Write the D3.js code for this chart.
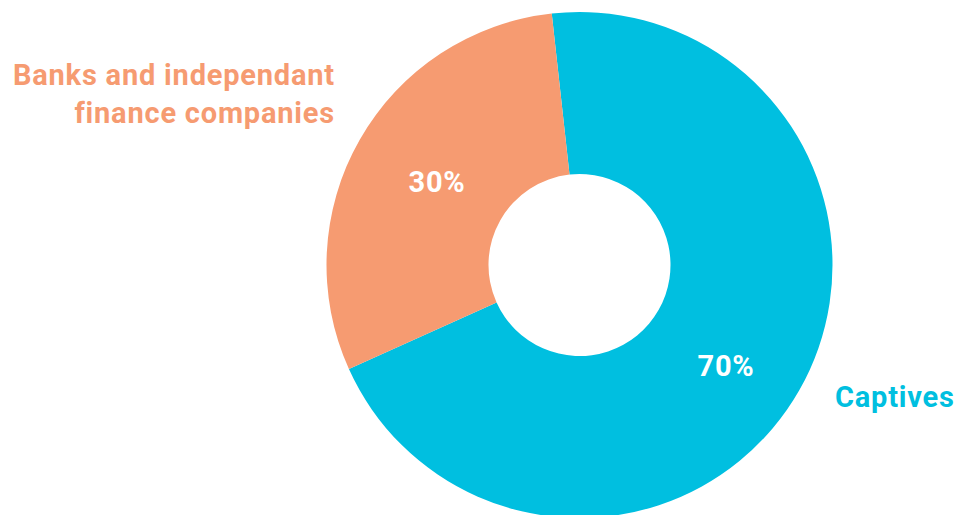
<!DOCTYPE html>
<html><head><meta charset="utf-8">
<script src="https://cdn.jsdelivr.net/npm/d3@7"></script>
<style>body{margin:0;background:#fff;}svg{display:block;font-family:Roboto,"DejaVu Sans",sans-serif;font-weight:700;}</style>
</head><body>
<svg id="c" width="955" height="515"></svg>
<script>
const categories = ["Captives", "Banks and independant finance companies"];
const values = [70, 30];
const valueLabels = ["70%", "30%"];
const labelLines = [["Captives"], ["Banks and independant", "finance companies"]];
const colors = ["#00BFE0", "#F69B71"];

const svg = d3.select("#c");
const cx = 579.5, cy = 265, rOuter = 253, rInner = 91;
const g = svg.append("g").attr("transform", `translate(${cx},${cy})`);
const start = -6.3 * Math.PI / 180;
const pie = d3.pie().sort(null).startAngle(start).endAngle(start + 2 * Math.PI);
const arcs = pie(values);
const arc = d3.arc().innerRadius(rInner).outerRadius(rOuter);
g.selectAll("path").data(arcs).join("path")
  .attr("d", arc).attr("fill", (d, i) => colors[i]);

const valuePos = [[726, 376], [437, 192]];
svg.selectAll("text.val").data(valueLabels).join("text")
  .attr("class", "val")
  .attr("x", (d, i) => valuePos[i][0]).attr("y", (d, i) => valuePos[i][1])
  .attr("text-anchor", "middle").attr("fill", "#fff").attr("font-size", 29)
  .attr("letter-spacing", 0.8)
  .text(d => d);

const catPos = [{x: 835, y: 407, anchor: "start"}, {x: 335, y: 85, anchor: "end"}];
categories.forEach((c, i) => {
  const t = svg.append("text").attr("x", catPos[i].x).attr("y", catPos[i].y)
    .attr("text-anchor", catPos[i].anchor).attr("fill", colors[i]).attr("font-size", 29)
    .attr("letter-spacing", 0.8);
  labelLines[i].forEach((line, j) => {
    t.append("tspan").attr("x", catPos[i].x).attr("dy", j === 0 ? 0 : 38).text(line);
  });
});
</script>
</body></html>
